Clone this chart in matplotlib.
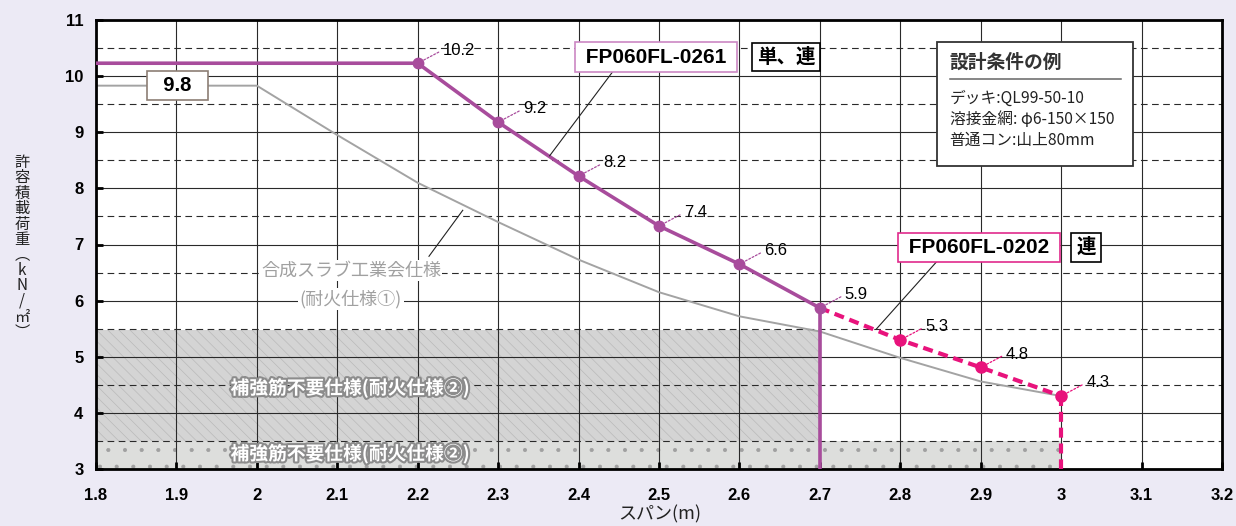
import numpy as np
import matplotlib
matplotlib.use('Agg')
import matplotlib.pyplot as plt
import matplotlib.patheffects as pe
from matplotlib.patches import Rectangle

plt.rcParams['font.family'] = ['Liberation Sans', 'Noto Sans CJK JP', 'DejaVu Sans']
plt.rcParams['hatch.linewidth'] = 0.5
JP = ['Noto Sans CJK JP', 'DejaVu Sans']

# data
span_0261 = [1.8, 2.2, 2.3, 2.4, 2.5, 2.6, 2.7]
load_0261 = [10.23, 10.23, 9.18, 8.22, 7.33, 6.65, 5.87]
lab_0261 = ['', '10.2', '9.2', '8.2', '7.4', '6.6', '5.9']

span_0202 = [2.7, 2.8, 2.9, 3.0]
load_0202 = [5.87, 5.30, 4.81, 4.30]
lab_0202 = ['', '5.3', '4.8', '4.3']

span_std = [1.8, 2.0, 2.1, 2.2, 2.3, 2.4, 2.5, 2.6, 2.7, 2.8, 2.9, 3.0]
load_std = [9.83, 9.83, 8.95, 8.10, 7.40, 6.73, 6.15, 5.72, 5.45, 4.98, 4.56, 4.30]

hatch_top = 5.47      # 補強筋不要仕様 upper zone (to span 2.7)
dot_top = 3.5         # lower zone (to span 3.0)

purple = '#A84C9C'
pink = '#E8137C'
bg = '#ECEAF5'

fig = plt.figure(figsize=(12.36, 5.26), dpi=100, facecolor=bg)
ax = fig.add_axes([96/1236, 1-469/526, 1126/1236, 449/526])
ax.set_facecolor('white')
ax.set_xlim(1.8, 3.2)
ax.set_ylim(3, 11)

# shaded zones
ax.add_patch(Rectangle((1.8, dot_top), 2.7-1.8, hatch_top-dot_top, fc='#D4D4D4',
                       ec='#BABABA', hatch='\\\\\\', lw=0, zorder=0.2))
ax.add_patch(Rectangle((1.8, 3), 3.0-1.8, dot_top-3, fc='#DDDEDC',
                       ec='#A0A0A0', hatch='.', lw=0, zorder=0.2))

# grid
xt = np.round(np.arange(1.8, 3.21, 0.1), 1)
ax.set_xticks(xt)
ax.set_xticklabels([f'{v:g}' for v in xt])
ax.set_yticks(range(3, 12))
ax.set_yticks(np.arange(3.5, 11, 1.0), minor=True)
ax.set_axisbelow(True)
ax.grid(True, which='major', color='#2A2A2A', lw=0.8)
ax.grid(True, which='minor', axis='y', color='#2A2A2A', lw=0.8, ls=(0, (6, 4)))
ax.tick_params(which='minor', length=0)
ax.tick_params(which='major', direction='in', length=5, width=2, colors='black')
ax.tick_params(axis='x', pad=14)
ax.tick_params(axis='y', pad=9)
for t in ax.get_xticklabels() + ax.get_yticklabels():
    t.set_fontweight('bold')
    t.set_fontsize(12)
for s in ax.spines.values():
    s.set_linewidth(2)

# zone text
for yy in [4.44, 3.27]:
    ax.text(2.116, yy, '補強筋不要仕様(耐火仕様②)', family=JP, fontsize=13.5, fontweight='bold',
            color='white', ha='center', va='center', zorder=3,
            path_effects=[pe.withStroke(linewidth=3, foreground='#8C8C8C')])

# standard curve
ax.plot(span_std, load_std, color='#A3A3A3', lw=1.4, zorder=2)

# FP060FL-0261
ax.plot(span_0261, load_0261, color=purple, lw=2.6, zorder=3)
ax.plot(span_0261[1:], load_0261[1:], 'o', color=purple, ms=7.5, zorder=4)
ax.plot([span_0261[-1], span_0261[-1]], [load_0261[-1], 3], color=purple, lw=2.6, zorder=3)

# FP060FL-0202
ax.plot(span_0202, load_0202, color=pink, lw=3, ls=(0, (2.4, 1.4)), zorder=3)
ax.plot(span_0202[1:], load_0202[1:], 'o', color=pink, ms=8, zorder=4)
ax.plot([span_0202[-1], span_0202[-1]], [load_0202[-1], 3], color=pink, lw=3,
        ls=(0, (2.4, 1.4)), zorder=3)

def point_labels(xs, ys, labs, c):
    for x, y, s in zip(xs, ys, labs):
        if not s:
            continue
        ax.annotate(s, (x, y), xytext=(18, 9.5), textcoords='offset points', fontsize=12,
                    ha='left', va='center', zorder=5,
                    arrowprops=dict(arrowstyle='-', color=c, lw=0.9, ls=(0, (1.5, 1.5)),
                                    shrinkA=1, shrinkB=4, relpos=(0, 0.5)))

point_labels(span_0261, load_0261, lab_0261, purple)
point_labels(span_0202, load_0202, lab_0202, pink)

# leader lines
ax.plot([2.214, 2.256], [6.79, 7.61], color='#222222', lw=0.8, zorder=3)
ax.plot([2.442, 2.364], [10.07, 8.58], color='#222222', lw=0.8, zorder=3)
ax.plot([2.845, 2.770], [6.69, 5.49], color='#222222', lw=0.8, zorder=3)

# gray spec label
ax.text(2.117, 6.53, '合成スラブ工業会仕様', family=JP, fontsize=13, color='#A0A0A0',
        ha='center', va='center', zorder=3,
        bbox=dict(fc='white', ec='none', pad=1))
ax.text(2.117, 6.03, '(耐火仕様①)', family=JP, fontsize=13, color='#A0A0A0',
        ha='center', va='center', zorder=3,
        bbox=dict(fc='white', ec='none', pad=1))

# boxed labels
def box(x, y, s, ec, fam=None, size=15):
    ax.text(x, y, s, fontsize=size, fontweight='bold', ha='center', va='center', zorder=6,
            family=fam if fam else plt.rcParams['font.family'],
            bbox=dict(boxstyle='square,pad=0.25', fc='white', ec=ec, lw=1.2))

box(1.901, 9.83, '  9.8  ', '#8C7E74', size=14.5)
box(2.496, 10.34, ' FP060FL-0261 ', '#CC88C4')
box(2.658, 10.34, '単、連', 'black', fam=JP, size=14)
box(2.898, 6.945, ' FP060FL-0202 ', '#E02A8C')
box(3.031, 6.945, '連', 'black', fam=JP, size=14)

# condition box
ax.add_patch(Rectangle((0.747, 0.675), 0.174, 0.276, transform=ax.transAxes,
                       fc='white', ec='#333333', lw=1.3, zorder=6))
ax.text(0.758, 0.907, '設計条件の例', transform=ax.transAxes, family=JP, fontsize=13.5,
        fontweight='bold', color='#333333', ha='left', va='center', zorder=7)
ax.plot([0.758, 0.910], [0.869, 0.869], transform=ax.transAxes, color='#666666', lw=1.1, zorder=7)
cond = ['デッキ:QL99-50-10', '溶接金網: φ6-150×150', '普通コン:山上80mm']
for i, s in enumerate(cond):
    ax.text(0.758, 0.826 - i*0.047, s, transform=ax.transAxes, family=JP, fontsize=11.3,
            color='#222222', ha='left', va='center', zorder=7)

# axis labels
ychars = list('許容積載荷重') + ['︵', 'k', 'N', '/', '㎡', '︶']
for i, ch in enumerate(ychars):
    fig.text(22/1236, 1 - (162 + i*15.5)/526, ch, family=JP, fontsize=11,
             ha='center', va='center', color='#222222')
fig.text(660/1236, 1 - 514/526, 'スパン(m)', family=JP, fontsize=13, ha='center',
         va='center', color='#222222')

fig.savefig('out.png', dpi=100, facecolor=bg)
